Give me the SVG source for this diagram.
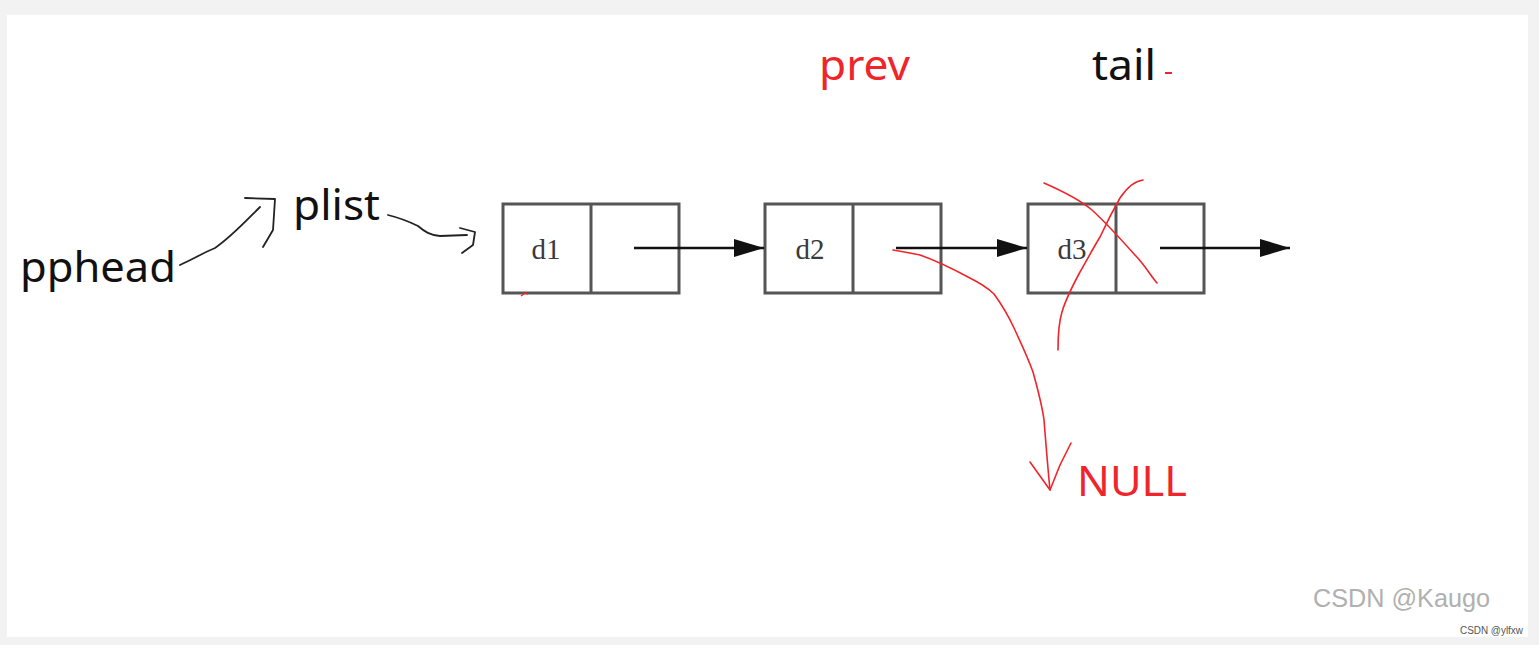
<svg xmlns="http://www.w3.org/2000/svg" width="1539" height="645" viewBox="0 0 1539 645">
<style>
.lbl{font-family:"Noto Sans","Open Sans","Liberation Sans",sans-serif;font-size:42px}
.red{fill:#f0252b}
.blk{fill:#111}
.box{fill:none;stroke:#555;stroke-width:3}
.dat{font-family:"Liberation Serif","DejaVu Serif",serif;font-size:29px;fill:#3a3a3a}
.ptr{stroke:#111;stroke-width:2.5;fill:none}
.ink{fill:none;stroke:#f0252b;stroke-width:1.6;stroke-linecap:round;stroke-linejoin:round}
.pen{fill:none;stroke:#222;stroke-width:1.8;stroke-linecap:round;stroke-linejoin:round}
</style>
<defs>
<marker id="ah" markerWidth="32" markerHeight="22" refX="30" refY="11" orient="auto" markerUnits="userSpaceOnUse">
<path d="M0,2 L30,11 L0,20 Z" fill="#111"/>
</marker>
</defs>
<rect x="0" y="0" width="1539" height="645" fill="#f2f2f2"/>
<rect x="7" y="15" width="1521" height="622" fill="#ffffff"/>

<g id="pphead"><text class="lbl blk" x="20" y="282" textLength="156" lengthAdjust="spacingAndGlyphs">pphead</text></g>
<g id="plist"><text class="lbl blk" x="293" y="220" textLength="87" lengthAdjust="spacingAndGlyphs">plist</text></g>
<g id="prev"><text class="lbl red" x="819" y="80" textLength="91" lengthAdjust="spacingAndGlyphs">prev</text></g>
<g id="tail"><text class="lbl blk" x="1092" y="80" textLength="64" lengthAdjust="spacingAndGlyphs">tail</text>
<line x1="1165" y1="73" x2="1172" y2="73" stroke="#f0252b" stroke-width="2"/></g>
<g id="null"><text class="lbl red" x="1077" y="496" textLength="110" lengthAdjust="spacingAndGlyphs">NULL</text></g>

<g id="node1">
<rect class="box" x="503" y="204" width="176" height="89"/>
<line class="box" x1="591" y1="204" x2="591" y2="293"/>
<text class="dat" x="546" y="259" text-anchor="middle">d1</text>
<path d="M521,296 L525,293 L528,294" fill="none" stroke="#f0252b" stroke-width="1.5"/>
</g>
<g id="node2">
<rect class="box" x="765" y="204" width="176" height="89"/>
<line class="box" x1="853" y1="204" x2="853" y2="293"/>
<text class="dat" x="810" y="259" text-anchor="middle">d2</text>
</g>
<g id="node3">
<rect class="box" x="1028" y="204" width="176" height="89"/>
<line class="box" x1="1116" y1="204" x2="1116" y2="293"/>
<text class="dat" x="1072" y="259" text-anchor="middle">d3</text>
</g>

<g id="connectors">
<line class="ptr" x1="634" y1="248" x2="764" y2="248" marker-end="url(#ah)"/>
<line class="ptr" x1="896" y1="248" x2="1027" y2="248" marker-end="url(#ah)"/>
<line class="ptr" x1="1160" y1="248" x2="1290" y2="248" marker-end="url(#ah)"/>
<path class="pen" d="M180,265 C195,258 205,252 215,248 C230,238 245,222 260,207"/>
<path class="pen" d="M245,198 L275,199 L273,230 L263,247"/>
<path class="pen" d="M388,215 C400,218 410,222 418,226 C425,232 430,235 440,236 L467,235"/>
<path class="pen" d="M460,228 L475,232 L473,245 L462,253"/>
<path class="ink" d="M893,250 C905,252 915,254 920,255 C940,262 955,270 968,277 C980,283 988,288 994,294 C1002,305 1008,315 1014,328 C1022,345 1028,358 1033,372 C1038,390 1042,405 1044,420 C1046,445 1048,470 1050,490"/>
<path class="ink" d="M1030,462 L1050,490 L1060,465 L1071,443"/>
<path class="ink" d="M1044,183 C1060,190 1080,200 1092,210 C1105,222 1118,236 1134,254 C1145,265 1150,275 1157,283"/>
<path class="ink" d="M1143,180 C1135,181 1128,186 1120,198 C1112,212 1106,224 1100,237 C1092,250 1086,262 1080,272 C1073,285 1066,298 1062,312 C1058,325 1058,338 1058,350"/>
</g>

<g id="watermark">
<text x="1313" y="607" font-family="'Liberation Sans','DejaVu Sans',sans-serif" font-size="26" fill="#b0b0b0" textLength="177" lengthAdjust="spacingAndGlyphs">CSDN @Kaugo</text>
<text x="1460" y="634" font-family="'Liberation Sans','DejaVu Sans',sans-serif" font-size="10" fill="#555" textLength="63" lengthAdjust="spacingAndGlyphs">CSDN @ylfxw</text>
</g>
</svg>
